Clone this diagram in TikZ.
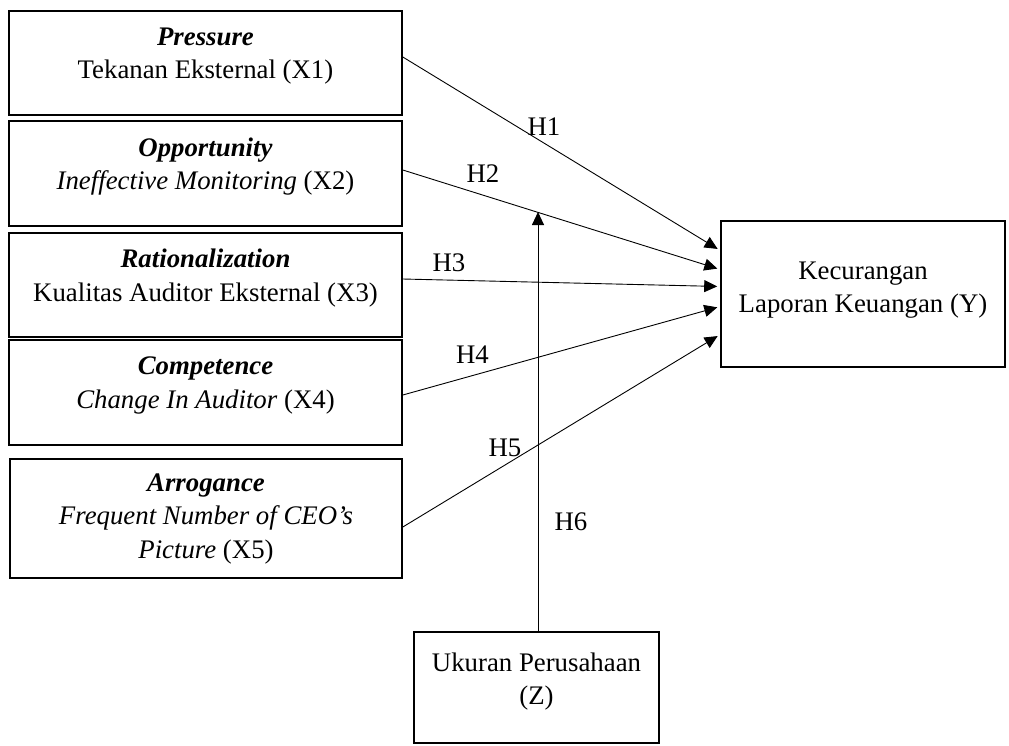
\documentclass[tikz,border=0pt]{standalone}
\usepackage{fontspec}
\setmainfont{Liberation Serif}
\usetikzlibrary{arrows.meta}

\begin{document}
\begin{tikzpicture}[x=1pt,y=-1pt]
        \tikzset{box/.style={draw,line width=1.6pt,inner sep=0pt},
            txt/.style={align=center,font=\fontsize{26.8}{33.5}\selectfont},
            hyp/.style={-{Triangle[length=13pt,width=12pt]},line width=0.9pt,shorten >=3pt},
            hlabel/.style={font=\fontsize{26.8}{33.5}\selectfont}}
        \useasboundingbox (0,0) rectangle (1009,745);
        % independent variables
        \node[box,minimum width=393pt,minimum height=104pt] (x1) at (205.5,63) {};
        \node[box,minimum width=393pt,minimum height=105pt] (x2) at (205.5,173.5) {};
        \node[box,minimum width=393pt,minimum height=104pt] (x3) at (205.5,285) {};
        \node[box,minimum width=393pt,minimum height=105pt] (x4) at (205.5,392.5) {};
        \node[box,minimum width=392pt,minimum height=119pt] (x5) at (206,518.5) {};
        \node[txt] (x1txt) at ([yshift=7pt]x1.center) {\textbf{\textit{Pressure}}\\ Tekanan Eksternal (X1)};
        \node[txt] (x2txt) at ([yshift=7pt]x2.center) {\textbf{\textit{Opportunity}}\\ \textit{Ineffective Monitoring} (X2)};
        \node[txt] (x3txt) at ([yshift=7pt]x3.center) {\textbf{\textit{Rationalization}}\\ Kualitas Auditor Eksternal (X3)};
        \node[txt] (x4txt) at ([yshift=7pt]x4.center) {\textbf{\textit{Competence}}\\ \textit{Change In Auditor} (X4)};
        \node[txt] (x5txt) at (x5.center) {\textbf{\textit{Arrogance}}\\ \textit{Frequent Number of CEO's}\\ \textit{Picture} (X5)};
        % dependent and moderating variables
        \node[box,minimum width=284pt,minimum height=146pt] (y) at (863,294) {};
        \node[txt] (ytxt) at ([yshift=4pt]y.center) {Kecurangan\\ Laporan Keuangan (Y)};
        \node[box,minimum width=245pt,minimum height=111pt] (z) at (536.5,687.5) {};
        \node[txt] (ztxt) at ([yshift=6pt]z.center) {Ukuran Perusahaan\\ (Z)};
        % hypotheses
        \draw[hyp] ([yshift=6pt]x1.east) -- ([yshift=43.5pt]y.west);
        \draw[hyp] ([yshift=3.5pt]x2.east) -- ([yshift=24.5pt]y.west);
        \draw[hyp] ([yshift=6pt]x3.east) -- ([yshift=7.5pt]y.west);
        \draw[hyp] ([yshift=-2.5pt]x4.east) -- ([yshift=-12.5pt]y.west);
        \draw[hyp] ([yshift=-8.5pt]x5.east) -- ([yshift=-40.5pt]y.west);
        \coordinate (h6tip) at (538,212);
        \draw[hyp,shorten >=0pt] (z.north -| h6tip) -- (h6tip);
        \node[hlabel] (h1) at (544,127) {H1};
        \node[hlabel] (h2) at (483,174) {H2};
        \node[hlabel] (h3) at (449,263) {H3};
        \node[hlabel] (h4) at (472.5,355) {H4};
        \node[hlabel] (h5) at (505,448) {H5};
        \node[hlabel] (h6) at (571,522) {H6};
\end{tikzpicture}
\end{document}
